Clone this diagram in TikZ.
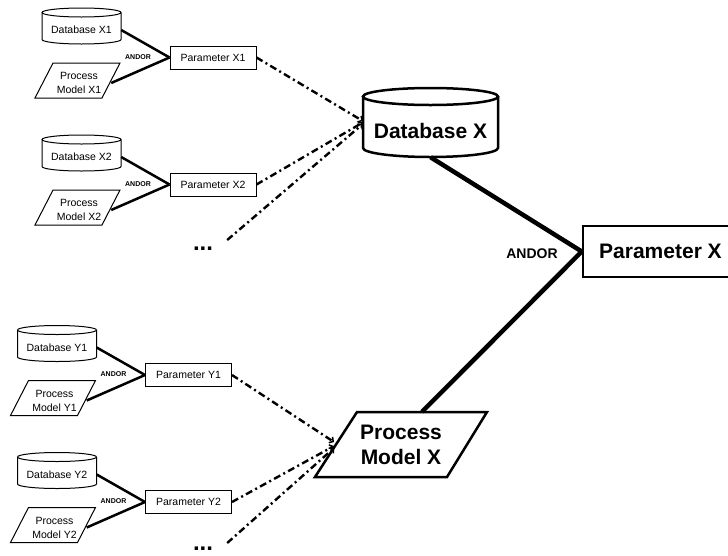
\documentclass[tikz,border=0pt]{standalone}
\usepackage{fontspec}
\setmainfont{Liberation Sans}
\usetikzlibrary{arrows.meta}

\tikzset{
 thinbox/.style={draw=black, line width=1pt},
 bigbox/.style={draw=black, line width=2.5pt},
 smalltext/.style={font=\fontsize{10.5}{13}\selectfont, inner sep=0pt},
 pmtext/.style={font=\fontsize{10.5}{14}\selectfont, align=center, inner sep=0pt},
 parbox/.style={thinbox, minimum width=86pt, minimum height=23pt, inner sep=0pt, font=\fontsize{10.5}{13}\selectfont},
 andorsmall/.style={font=\bfseries\fontsize{7}{8}\selectfont, inner sep=0pt},
 andorbig/.style={font=\bfseries\fontsize{14}{16}\selectfont, inner sep=0pt},
 link/.style={line width=2.5pt},
 biglink/.style={line width=4.5pt},
 dashdot/.style={line width=2.4pt, dash pattern=on 7pt off 3.5pt on 2pt off 3.5pt,
   -{Straight Barb[length=3pt,width=7pt,line width=1.5pt]}},
 bigtext/.style={font=\bfseries\fontsize{21}{25}\selectfont, inner sep=0pt},
 dotsstyle/.style={font=\bfseries\fontsize{24}{24}\selectfont, inner sep=0pt},
}

\newcommand\mycluster[4]{%
 \begin{scope}[shift={(#2,-#3)}]
  \draw[thinbox] (42,-12.5) -- (42,-39.5)
     arc[start angle=180,end angle=360,x radius=39.5pt,y radius=4.5pt] -- (121,-12.5);
  \draw[thinbox] (81.5,-12.5) ellipse[x radius=39.5pt,y radius=4.5pt];
  \node[smalltext, minimum width=79pt] (db#1) at (81.5,-30) {Database #4};
  \draw[thinbox] (53,-63) -- (120,-63) -- (102,-98) -- (35,-98) -- cycle;
  \node[pmtext, minimum width=64pt] (pm#1) at (79,-83) {Process\\Model #4};
  \node[parbox] (par#1) at (213,-57.5) {Parameter #4};
  \node[andorsmall] (and#1) at (138,-57) {ANDOR};
 \end{scope}
 \draw[link] (db#1.east) -- (par#1.west);
 \draw[link] (pm#1.east) -- (par#1.west);
}

\begin{document}
\begin{tikzpicture}[x=1pt,y=1pt]
\useasboundingbox (0,0) rectangle (728,-555);

% small clusters
\mycluster{xa}{0}{0}{X1}
\mycluster{xb}{0}{127}{X2}
\mycluster{ya}{-24.5}{317.5}{Y1}
\mycluster{yb}{-24.5}{444.5}{Y2}

% ellipses
\node[dotsstyle] (dotsX) at (203,-249) {...};
\node[dotsstyle] (dotsY) at (203,-549) {...};

% Database X
\draw[bigbox] (363,-96.5) -- (363,-148)
   arc[start angle=180,end angle=360,x radius=67.5pt,y radius=9pt] -- (498,-96.5);
\draw[bigbox] (430.5,-96.5) ellipse[x radius=67.5pt,y radius=8.5pt];
\node[bigtext, minimum width=135pt, minimum height=52pt] (dbX) at (430.5,-131) {Database X};

% Parameter X
\node[bigbox, bigtext, minimum width=155pt, minimum height=51pt] (parX) at (660.5,-251.5) {Parameter X};
\node[andorbig] (andX) at (532,-254) {ANDOR};

% Process Model X
\draw[bigbox] (357,-412) -- (487,-412) -- (447,-477) -- (315,-477) -- cycle;
\node[bigtext, align=center, minimum width=130pt, minimum height=65pt] (pmX) at (401,-444.5) {Process\\Model X};
\coordinate (pmXin) at (334,-446);

% thick connectors
\draw[biglink] (dbX.south) -- (parX.west);
\draw[biglink] ([xshift=21pt]pmX.north) -- (parX.west);

% dash-dot connectors
\draw[dashdot] (parxa.east) -- ([yshift=10pt]dbX.west);
\draw[dashdot] (parxb.east) -- ([yshift=8.5pt]dbX.west);
\draw[dashdot] ([shift={(14pt,9pt)}]dotsX.east) -- ([yshift=7pt]dbX.west);
\draw[dashdot] (parya.east) -- ([yshift=4pt]pmXin);
\draw[dashdot] (paryb.east) -- (pmXin);
\draw[dashdot] ([shift={(14pt,6pt)}]dotsY.east) -- ([yshift=-2pt]pmXin);
\end{tikzpicture}
\end{document}
